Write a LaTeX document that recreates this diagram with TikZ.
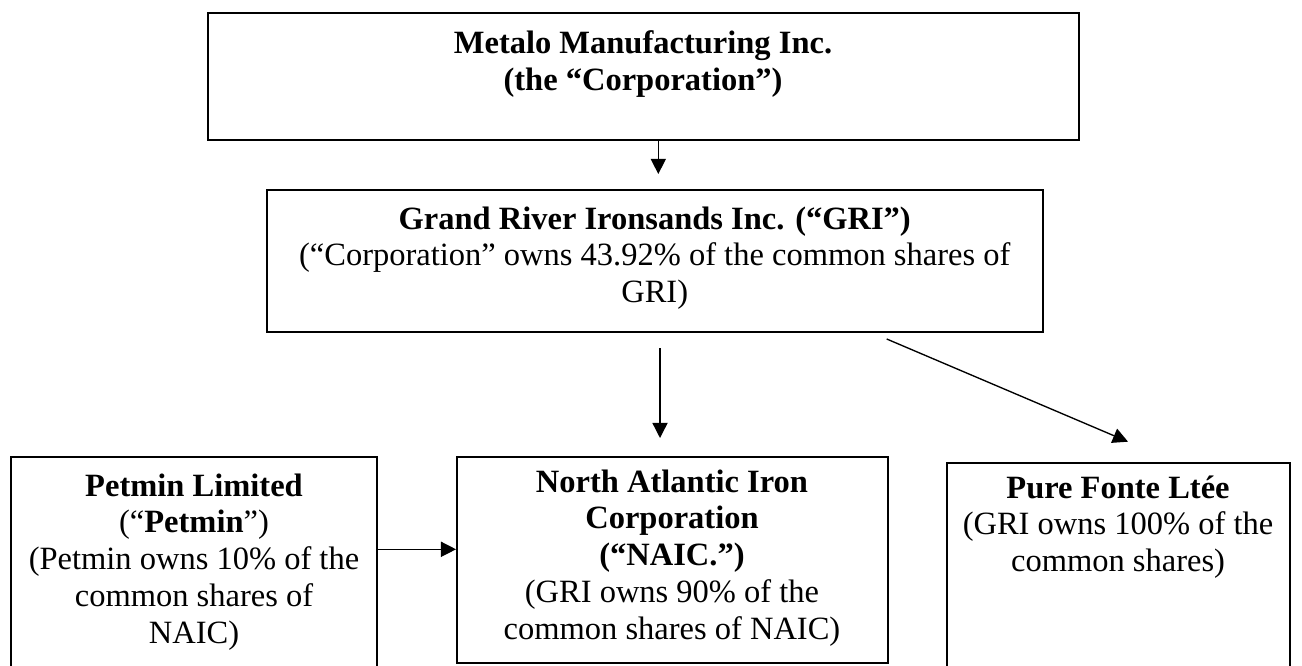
\documentclass[tikz,border=0pt]{standalone}
\usepackage{fontspec}
\setmainfont{Liberation Serif}
\usetikzlibrary{arrows.meta,fit}
\begin{document}
\begin{tikzpicture}[x=0.36923pt,y=-0.36923pt,
  box/.style={draw,line width=0.7pt,inner sep=0pt},
  txt/.style={anchor=north,align=center,inner sep=0pt,font=\fontsize{12}{13.6}\selectfont},
  conn/.style={line width=0.5pt,-{Triangle[width=5.6pt,length=5.6pt]}}]
\useasboundingbox (0,0) rectangle (1302,665);
% boxes
\node[box,fit={(207.7,13.3) (1078.7,140)}] (corp) {};
\node[box,fit={(266.7,190) (1042.7,332)}] (gri) {};
\node[box,fit={(11,456.7) (377,720)}] (petmin) {};
\node[box,fit={(457,456.7) (887.7,663.3)}] (naic) {};
\node[box,fit={(946.7,463.3) (1290,720)}] (pure) {};
% texts
\node[txt] (tcorp) at (643,30) {\textbf{Metalo Manufacturing Inc.}\\\textbf{(the “Corporation”)}};
\node[txt] (tgri) at (654.7,206) {\textbf{Grand River Ironsands Inc. (“GRI”)}\\(“Corporation” owns 43.92\% of the common shares of\\GRI)};
\node[txt] (tpet) at (194,473) {\textbf{Petmin Limited}\\(“\textbf{Petmin}”)\\(Petmin owns 10\% of the\\common shares of\\NAIC)};
\node[txt] (tnaic) at (672,469) {\textbf{North Atlantic Iron}\\\textbf{Corporation}\\\textbf{(“NAIC.”)}\\(GRI owns 90\% of the\\common shares of NAIC)};
\node[txt] (tpure) at (1118,475) {\textbf{Pure Fonte Ltée}\\(GRI owns 100\% of the\\common shares)};
% connector ends
\coordinate (a1s) at (658.3,140);
\coordinate (a1e) at (658.3,174);
\coordinate (a2s) at (660,348);
\coordinate (a2e) at (660,438);
\coordinate (a3s) at (886.7,339);
\coordinate (a3e) at (1128,441.7);
% connectors
\draw[conn] (a1s) -- (a1e);
\draw[conn] (a2s) -- (a2e);
\draw[conn] (a3s) -- (a3e);
\draw[conn] (petmin.east |- 0,549.3) -- (naic.west |- 0,549.3);
\end{tikzpicture}
\end{document}
